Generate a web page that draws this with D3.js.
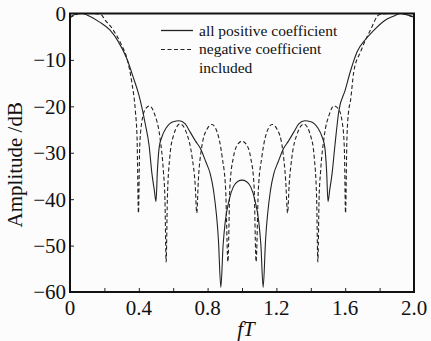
<!DOCTYPE html>
<html>
<head>
<meta charset="utf-8">
<script src="https://cdn.jsdelivr.net/npm/d3@7"></script>
<style>
  body { margin: 0; background: #fcfcfc; }
  svg text { font-family: "Liberation Serif", "DejaVu Serif", serif; fill: #111; }
</style>
</head>
<body>
<div id="chart"></div>
<script>
// fT values and amplitudes (dB)
var solidF = [0.00, 0.03, 0.068, 0.12, 0.17, 0.233, 0.28, 0.33, 0.37, 0.40, 0.437, 0.46, 0.476, 0.49, 0.50,
    0.508, 0.518, 0.535, 0.56, 0.60, 0.635, 0.67, 0.698, 0.73, 0.757, 0.79, 0.815, 0.834, 0.863, 0.877,
    0.89, 0.902, 0.925, 0.95, 0.975, 1.00, 1.025, 1.05, 1.075, 1.098, 1.11, 1.123,
    1.137, 1.166, 1.185, 1.21, 1.243, 1.27, 1.302, 1.33, 1.365, 1.40, 1.44, 1.465, 1.482, 1.492,
    1.50, 1.51, 1.524, 1.54, 1.563, 1.60, 1.63, 1.67, 1.72, 1.767, 1.83, 1.88, 1.92, 1.96, 2.00];
var solidDB = [-0.7, -0.2, 0, -0.7, -1.8, -3.6, -6, -9.7, -14, -17.5, -23.7, -28.5, -34.4, -38, -40.5,
    -34, -29, -26.5, -24.6, -23.3, -23.1, -23.8, -25.5, -27.5, -29, -32, -34.5, -38, -48.8, -59,
    -50, -45, -40.2, -37.3, -36.2, -35.9, -36.2, -37.3, -40.2, -45, -50, -59,
    -48.8, -38, -34.5, -32, -29, -27.5, -25.5, -23.8, -23.1, -23.3, -24.6, -26.5, -29, -34,
    -40.5, -38, -34.4, -28.5, -21, -16.5, -12.5, -8.2, -5.5, -3.6, -1.5, -0.6, 0, -0.3, -0.7];

var dashedF = [0.00, 0.03, 0.06, 0.12, 0.175, 0.204, 0.25, 0.30, 0.33, 0.36, 0.38, 0.39, 0.398,
    0.405, 0.417, 0.44, 0.462, 0.49, 0.524, 0.543, 0.552, 0.559,
    0.566, 0.58, 0.60, 0.64, 0.68, 0.71, 0.728, 0.737,
    0.746, 0.765, 0.795, 0.825, 0.855, 0.885, 0.905, 0.918,
    0.93, 0.95, 0.975, 1.00, 1.025, 1.05, 1.07, 1.082,
    1.095, 1.115, 1.145, 1.175, 1.205, 1.235, 1.254, 1.265,
    1.274, 1.29, 1.32, 1.36, 1.40, 1.42, 1.434, 1.441,
    1.448, 1.457, 1.476, 1.51, 1.533, 1.56, 1.583, 1.595, 1.602,
    1.61, 1.62, 1.63, 1.65, 1.69, 1.746, 1.80, 1.86, 1.93, 1.97, 2.00];
var dashedDB = [-0.9, -0.3, 0, 0, -0.1, -1.4, -3.5, -6.8, -9.5, -15, -21, -27, -43,
    -29, -23.5, -20.5, -19.9, -21.5, -27, -34, -40, -53.5,
    -40, -31, -26.5, -23.8, -26, -31, -37, -43,
    -36, -29, -25, -23.9, -25.5, -31, -38, -53.5,
    -37, -31, -28.2, -27.5, -28.2, -31, -37, -53.5,
    -38, -31, -25.5, -23.9, -25, -29, -36, -43,
    -37, -31, -26, -23.8, -26.5, -31, -40, -53.5,
    -40, -34, -27, -21.5, -19.9, -20.5, -23.5, -29, -43,
    -27, -21, -19, -12.5, -8.2, -3.6, -0.2, 0, 0, -0.4, -0.9];

var xTicks = [0, 0.4, 0.8, 1.2, 1.6, 2.0];
var xMinorTicks = [0.2, 0.4, 0.6, 0.8, 1.0, 1.2, 1.4, 1.6, 1.8];
var yTicks = [0, -10, -20, -30, -40, -50, -60];
var legendLabels = ["all positive coefficient", "negative coefficient", "included"];

var width = 431, height = 341;
var margin = { top: 13.5, right: 17, bottom: 49, left: 70 };
var w = width - margin.left - margin.right;
var h = height - margin.top - margin.bottom;

var svg = d3.select("#chart").append("svg")
    .attr("width", width)
    .attr("height", height)
    .attr("font-family", "Liberation Serif, DejaVu Serif, serif")
    .style("background", "#fcfcfc");

var g = svg.append("g")
    .attr("transform", "translate(" + margin.left + "," + margin.top + ")");

var x = d3.scaleLinear().domain([0, 2]).range([0, w]);
var y = d3.scaleLinear().domain([-60, 0]).range([h, 0]);

g.append("clipPath").attr("id", "clip")
    .append("rect").attr("width", w).attr("height", h);

// inward ticks
var xAxis = g.append("g")
    .attr("transform", "translate(0," + h + ")")
    .call(d3.axisBottom(x).tickValues(xMinorTicks).tickSize(-4).tickFormat(""));
xAxis.select(".domain").remove();
xAxis.selectAll("line").attr("stroke", "#222").attr("stroke-width", 1);

var yAxis = g.append("g")
    .call(d3.axisLeft(y).tickValues(yTicks.slice(1, -1)).tickSize(-4).tickFormat(""));
yAxis.select(".domain").remove();
yAxis.selectAll("line").attr("stroke", "#222").attr("stroke-width", 1);

// tick labels
g.selectAll(".xlab").data(xTicks).enter().append("text")
    .attr("class", "xlab")
    .attr("x", function(d) { return x(d); })
    .attr("y", h + 23)
    .attr("text-anchor", "middle")
    .style("font-size", "21px")
    .text(function(d) { return d === 0 ? "0" : d.toFixed(1); });

g.selectAll(".ylab").data(yTicks).enter().append("text")
    .attr("class", "ylab")
    .attr("x", -4)
    .attr("y", function(d) { return y(d); })
    .attr("dy", "0.35em")
    .attr("text-anchor", "end")
    .style("font-size", "21px")
    .text(function(d) { return d === 0 ? "0" : "\u2212" + Math.abs(d); });

// axis titles
svg.append("text")
    .attr("transform", "translate(22," + (margin.top + h / 2 + 12) + ") rotate(-90)")
    .attr("text-anchor", "middle")
    .style("font-size", "21px")
    .text("Amplitude /dB");

svg.append("text")
    .attr("x", margin.left + w / 2 + 4)
    .attr("y", height - 5)
    .attr("text-anchor", "middle")
    .style("font-size", "21px")
    .style("font-style", "italic")
    .text("fT");

// curves
var line = d3.line()
    .x(function(d) { return x(d[0]); })
    .y(function(d) { return y(d[1]); })
    .curve(d3.curveMonotoneX);

var plot = g.append("g").attr("clip-path", "url(#clip)");

plot.append("path")
    .datum(d3.zip(dashedF, dashedDB))
    .attr("d", line)
    .attr("fill", "none")
    .attr("stroke", "#222")
    .attr("stroke-width", 1.1)
    .attr("stroke-dasharray", "4,2.5");

plot.append("path")
    .datum(d3.zip(solidF, solidDB))
    .attr("d", line)
    .attr("fill", "none")
    .attr("stroke", "#222")
    .attr("stroke-width", 1.1);

// frame
g.append("rect")
    .attr("width", w)
    .attr("height", h)
    .attr("fill", "none")
    .attr("stroke", "#111")
    .attr("stroke-width", 2);

// legend
var lg = g.append("g").attr("transform", "translate(91,17)");
lg.append("line").attr("x1", 0).attr("x2", 32).attr("y1", 0).attr("y2", 0)
    .attr("stroke", "#222").attr("stroke-width", 1.3);
lg.append("line").attr("x1", 0).attr("x2", 32).attr("y1", 19).attr("y2", 19)
    .attr("stroke", "#222").attr("stroke-width", 1.1).attr("stroke-dasharray", "4,2.5");
lg.selectAll("text").data(legendLabels).enter().append("text")
    .attr("x", 38)
    .attr("y", function(d, i) { return i * 18.5; })
    .attr("dy", "0.35em")
    .style("font-size", "15.5px")
    .text(function(d) { return d; });
</script>
</body>
</html>
